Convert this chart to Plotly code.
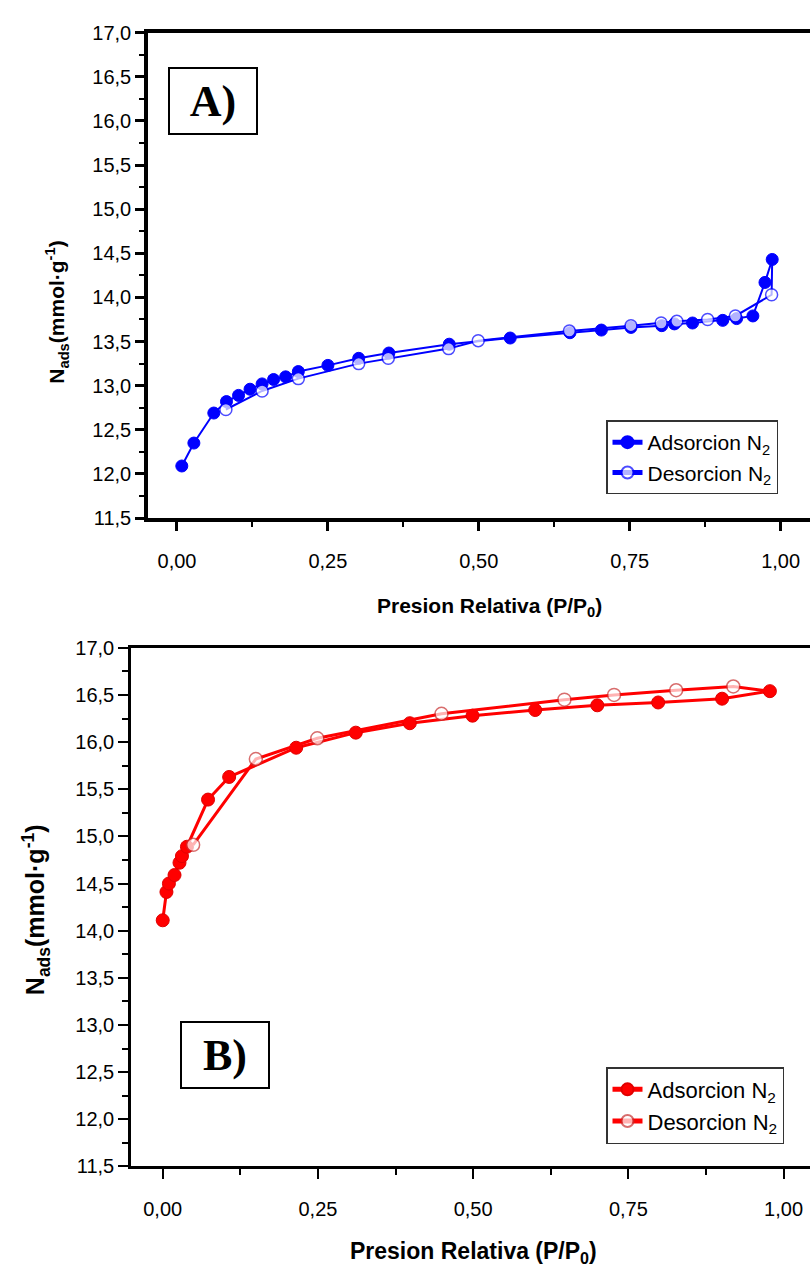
import plotly.graph_objects as go

# Panel A: N2 isotherm (blue)
a_ads_p = [0.008, 0.028, 0.061, 0.082, 0.102, 0.121, 0.141, 0.160, 0.180, 0.201,
           0.250, 0.301, 0.351, 0.451, 0.552, 0.651, 0.703, 0.752, 0.803, 0.824,
           0.854, 0.904, 0.927, 0.954, 0.974, 0.986]
a_ads_n = [12.09, 12.35, 12.69, 12.82, 12.89, 12.96, 13.02, 13.07, 13.10, 13.16,
           13.23, 13.31, 13.37, 13.47, 13.54, 13.60, 13.63, 13.66, 13.68, 13.70,
           13.71, 13.74, 13.76, 13.79, 14.17, 14.43]
# desorption branch starts at the last adsorption point
a_des_p = [0.986, 0.985, 0.925, 0.879, 0.828, 0.802, 0.752, 0.650, 0.499, 0.450,
           0.350, 0.301, 0.201, 0.141, 0.081]
a_des_n = [14.43, 14.03, 13.79, 13.75, 13.73, 13.71, 13.68, 13.62, 13.51, 13.42,
           13.31, 13.25, 13.08, 12.94, 12.73]

# Panel B: N2 isotherm (red)
b_ads_p = [0.000, 0.006, 0.010, 0.019, 0.027, 0.031, 0.039, 0.073, 0.107, 0.215,
           0.311, 0.398, 0.499, 0.600, 0.700, 0.798, 0.901, 0.978]
b_ads_n = [14.11, 14.41, 14.50, 14.59, 14.72, 14.79, 14.89, 15.39, 15.63, 15.94,
           16.10, 16.20, 16.28, 16.34, 16.39, 16.42, 16.46, 16.54]
b_des_p = [0.978, 0.919, 0.827, 0.727, 0.647, 0.449, 0.249, 0.150, 0.049]
b_des_n = [16.54, 16.59, 16.55, 16.50, 16.45, 16.30, 16.04, 15.82, 14.91]

x_ticks = [0.0, 0.25, 0.5, 0.75, 1.0]
x_ticktext = ["0,00", "0,25", "0,50", "0,75", "1,00"]
y_ticks = [11.5, 12.0, 12.5, 13.0, 13.5, 14.0, 14.5, 15.0, 15.5, 16.0, 16.5, 17.0]
y_ticktext = ["11,5", "12,0", "12,5", "13,0", "13,5", "14,0", "14,5", "15,0",
              "15,5", "16,0", "16,5", "17,0"]

W, H = 810, 1272
BLUE = "#0000FF"
RED = "#FF0000"
SANS = "Liberation Sans, Arial, sans-serif"
SERIF = "Liberation Serif, Times New Roman, serif"

fig = go.Figure()

# --- panel A traces ---
fig.add_trace(go.Scatter(
    x=a_ads_p, y=a_ads_n, mode="lines+markers", name="Adsorcion N<sub>2</sub>",
    line=dict(color=BLUE, width=2),
    marker=dict(symbol="circle", size=12, color=BLUE, line=dict(color=BLUE, width=1)),
    xaxis="x", yaxis="y", legend="legend"))
fig.add_trace(go.Scatter(
    x=a_des_p, y=a_des_n, mode="lines+markers", name="Desorcion N<sub>2</sub>",
    line=dict(color=BLUE, width=2),
    marker=dict(symbol="circle", size=[0] + [12] * (len(a_des_p) - 1), color="white",
                line=dict(color=BLUE, width=1.5)),
    xaxis="x", yaxis="y", legend="legend"))

# --- panel B traces ---
fig.add_trace(go.Scatter(
    x=b_ads_p, y=b_ads_n, mode="lines+markers", name="Adsorcion N<sub>2</sub>",
    line=dict(color=RED, width=3),
    marker=dict(symbol="circle", size=13, color=RED, line=dict(color="#E00000", width=1)),
    xaxis="x2", yaxis="y2", legend="legend2"))
fig.add_trace(go.Scatter(
    x=b_des_p, y=b_des_n, mode="lines+markers", name="Desorcion N<sub>2</sub>",
    line=dict(color=RED, width=3),
    marker=dict(symbol="circle", size=[0] + [13] * (len(b_des_p) - 1), color="white",
                line=dict(color="#C83030", width=1.5)),
    xaxis="x2", yaxis="y2", legend="legend2"))


def px_x(px):
    return px / W


def px_y(py):
    return 1 - py / H


tick_font_a = dict(family=SANS, size=20, color="black")
tick_font_b = dict(family=SANS, size=20, color="black")

common_x = dict(tickmode="array", tickvals=x_ticks, ticktext=x_ticktext, ticks="outside",
                showline=True, linecolor="black", mirror=True, showgrid=False,
                zeroline=False, tickcolor="black", ticklabelstandoff=13)
common_y = dict(tickmode="array", tickvals=y_ticks, ticktext=y_ticktext, ticks="outside",
                showline=True, linecolor="black", showgrid=False, zeroline=False,
                tickcolor="black", range=[11.5, 17.0])

fig.update_layout(
    width=W, height=H,
    margin=dict(l=0, r=0, t=0, b=0),
    paper_bgcolor="white", plot_bgcolor="white",
    xaxis=dict(**common_x, domain=[px_x(148), 1.0], range=[-0.048, 1.0486], anchor="y",
               linewidth=3.5, tickwidth=3, ticklen=9, tickfont=tick_font_a,
               minor=dict(dtick=0.125, tick0=0, ticks="outside", ticklen=5, tickwidth=2,
                          tickcolor="black", showgrid=False)),
    yaxis=dict(**common_y, domain=[px_y(516), px_y(22)], anchor="x",
               linewidth=3.5, tickwidth=3, ticklen=9, tickfont=tick_font_a,
               minor=dict(dtick=0.25, tick0=11.5, ticks="outside", ticklen=5, tickwidth=2,
                          tickcolor="black", showgrid=False)),
    xaxis2=dict(**common_x, domain=[px_x(131), 1.0], range=[-0.0511, 1.0426], anchor="y2",
                linewidth=2.5, tickwidth=2, ticklen=10, tickfont=tick_font_b,
                minor=dict(dtick=0.125, tick0=0, ticks="outside", ticklen=6, tickwidth=1.5,
                           tickcolor="black", showgrid=False)),
    yaxis2=dict(**common_y, domain=[px_y(1175.7), px_y(648)], anchor="x2",
                linewidth=2.5, tickwidth=2, ticklen=10, tickfont=tick_font_b,
                minor=dict(dtick=0.25, tick0=11.5, ticks="outside", ticklen=6, tickwidth=1.5,
                           tickcolor="black", showgrid=False)),
    legend=dict(x=px_x(778), y=px_y(492), xanchor="right", yanchor="bottom",
                bgcolor="white", bordercolor="#333333", borderwidth=1.5,
                font=dict(family=SANS, size=21, color="black"),
                itemsizing="constant", tracegroupgap=0),
    legend2=dict(x=px_x(784), y=px_y(1153), xanchor="right", yanchor="bottom",
                 bgcolor="white", bordercolor="#333333", borderwidth=1.5,
                 font=dict(family=SANS, size=22, color="black"),
                 itemsizing="constant", tracegroupgap=0),
    showlegend=True,
)

title_a = dict(family=SANS, size=21, color="black")
title_b = dict(family=SANS, size=23, color="black")
ytitle_b = dict(family=SANS, size=25, color="black")
label_font = dict(family=SERIF, size=44, color="black")

annotations = [
    # axis titles
    dict(text="<b>Presion Relativa (P/P<sub>0</sub>)</b>", x=px_x(489), y=px_y(606),
         xref="paper", yref="paper", showarrow=False, font=title_a,
         xanchor="center", yanchor="middle"),
    dict(text="<b>N<sub>ads</sub>(mmol·g<sup>-1</sup>)</b>", x=px_x(57), y=px_y(307),
         xref="paper", yref="paper", showarrow=False, font=title_a, textangle=-90,
         xanchor="center", yanchor="middle"),
    dict(text="<b>Presion Relativa (P/P<sub>0</sub>)</b>", x=px_x(474), y=px_y(1263),
         xref="paper", yref="paper", showarrow=False, font=title_b,
         xanchor="center", yanchor="middle"),
    dict(text="<b>N<sub>ads</sub>(mmol·g<sup>-1</sup>)</b>", x=px_x(36), y=px_y(915),
         xref="paper", yref="paper", showarrow=False, font=ytitle_b, textangle=-90,
         xanchor="center", yanchor="middle"),
    # panel labels in framed boxes
    dict(text="<b>A)</b>", x=px_x(213), y=px_y(92), xref="paper", yref="paper",
         xanchor="center", yanchor="middle",
         showarrow=False, width=86, height=64, borderwidth=2, bordercolor="black",
         borderpad=0, bgcolor="white", align="center", font=label_font),
    dict(text="<b>B)</b>", x=px_x(224.5), y=px_y(1062), xref="paper", yref="paper",
         xanchor="center", yanchor="middle",
         showarrow=False, width=86, height=64, borderwidth=2, bordercolor="black",
         borderpad=0, bgcolor="white", align="center", font=label_font),
]
fig.update_layout(annotations=annotations)

fig.write_html("out.html")
